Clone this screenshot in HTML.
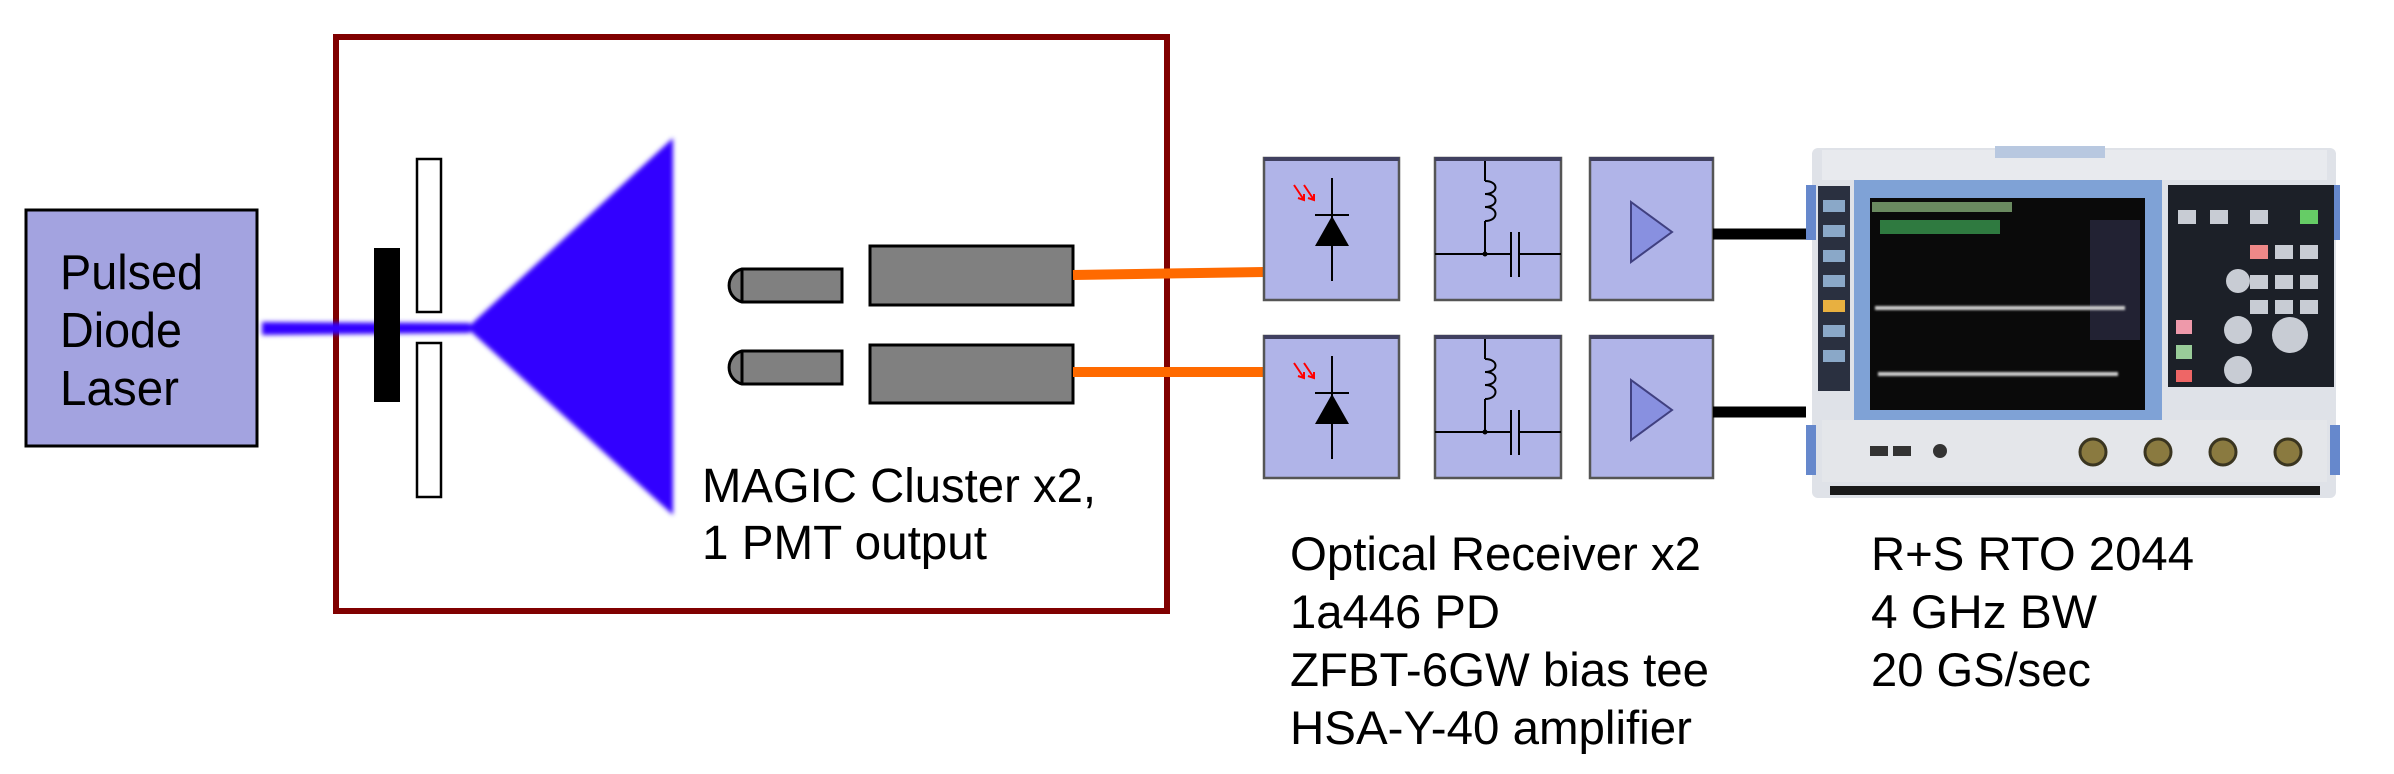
<!DOCTYPE html>
<html><head><meta charset="utf-8"><style>html,body{margin:0;padding:0;background:#fff}svg{display:block}</style></head>
<body>
<svg width="2394" height="774" viewBox="0 0 2394 774" xmlns="http://www.w3.org/2000/svg" font-family="Liberation Sans, sans-serif">
<defs>
<filter id="bl" x="-10%" y="-10%" width="120%" height="120%"><feGaussianBlur stdDeviation="2.5"/></filter>
<filter id="bl2"><feGaussianBlur stdDeviation="1"/></filter>
</defs>
<rect width="2394" height="774" fill="#fff"/>
<!-- laser -->
<rect x="26" y="210" width="231" height="236" fill="#a3a3e0" stroke="#000" stroke-width="3"/>
<g font-size="49" fill="#000">
<text x="60" y="289" textLength="143" lengthAdjust="spacingAndGlyphs">Pulsed</text>
<text x="60" y="347" textLength="122" lengthAdjust="spacingAndGlyphs">Diode</text>
<text x="60" y="405" textLength="119" lengthAdjust="spacingAndGlyphs">Laser</text>
</g>
<!-- red box -->
<rect x="336" y="37" width="831" height="574" fill="none" stroke="#800000" stroke-width="6"/>
<!-- beam -->
<g filter="url(#bl)" fill="#3300ff">
<polygon points="262,322 470,323 470,333 262,335"/>
<polygon points="467,328 673,138 673,515"/>
</g>
<!-- black bar and slats -->
<rect x="374" y="248" width="26" height="154" fill="#000"/>
<rect x="417" y="159" width="24" height="153" fill="#fff" stroke="#000" stroke-width="2.5"/>
<rect x="417" y="343" width="24" height="154" fill="#fff" stroke="#000" stroke-width="2.5"/>
<!-- PMTs -->
<g fill="#808080" stroke="#000" stroke-width="3">
<path d="M742,269 H842 V302 H742 A17,17 0 0 1 742,269 Z"/>
<path d="M742,351 H842 V384 H742 A17,17 0 0 1 742,351 Z"/>
<line x1="742" y1="269" x2="742" y2="302"/><line x1="742" y1="351" x2="742" y2="384"/>
<rect x="870" y="246" width="203" height="59"/>
<rect x="870" y="345" width="203" height="58"/>
</g>
<!-- orange fibers -->
<line x1="1073" y1="275" x2="1264" y2="272" stroke="#ff6a00" stroke-width="10"/>
<line x1="1073" y1="372" x2="1264" y2="372" stroke="#ff6a00" stroke-width="10"/>
<g font-size="48" fill="#000">
<text x="702" y="502" textLength="394" lengthAdjust="spacingAndGlyphs">MAGIC Cluster x2,</text>
<text x="702" y="559" textLength="285" lengthAdjust="spacingAndGlyphs">1 PMT output</text>
</g>
<!-- receiver rows -->
<g id="row">
<g fill="#b0b4e8" stroke="#555" stroke-width="2.5">
<rect x="1264" y="158" width="135" height="142"/>
<rect x="1435" y="158" width="126" height="142"/>
<rect x="1590" y="158" width="123" height="142"/>
</g>
<g stroke="#404060" stroke-width="4"><line x1="1264" y1="159" x2="1399" y2="159"/><line x1="1435" y1="159" x2="1561" y2="159"/><line x1="1590" y1="159" x2="1713" y2="159"/></g>
<!-- diode -->
<line x1="1332" y1="178" x2="1332" y2="281" stroke="#000" stroke-width="2"/>
<line x1="1315" y1="215" x2="1349" y2="215" stroke="#000" stroke-width="2"/>
<polygon points="1315,246 1349,246 1332,216" fill="#000"/>
<g stroke="#f00" stroke-width="2" fill="none">
<path d="M1294,185 L1304,200 M1298,198 L1304,200 L1304,194"/>
<path d="M1304,185 L1314,200 M1308,198 L1314,200 L1314,194"/>
</g>
<!-- bias tee -->
<g stroke="#000" stroke-width="2" fill="none">
<line x1="1485" y1="161" x2="1485" y2="181"/>
<path d="M1485,181 c14,0 14,13 0,13 c14,0 14,13 0,13 c14,0 14,14 0,14"/>
<line x1="1485" y1="221" x2="1485" y2="254"/>
<line x1="1435" y1="254" x2="1511" y2="254"/>
<line x1="1519" y1="254" x2="1561" y2="254"/>
<line x1="1511" y1="232" x2="1511" y2="277"/>
<line x1="1519" y1="232" x2="1519" y2="277"/>
</g>
<circle cx="1485" cy="254" r="2.5" fill="#000"/>
<!-- amp -->
<polygon points="1631,202 1672,232 1631,262" fill="#8890e0" stroke="#404080" stroke-width="2"/>
<line x1="1713" y1="234" x2="1806" y2="234" stroke="#000" stroke-width="11"/>
</g>
<use href="#row" transform="translate(0,178)"/>
<!-- oscilloscope -->
<g>
<rect x="1812" y="148" width="524" height="350" rx="6" fill="#dfe2e8"/>
<rect x="1822" y="150" width="505" height="30" fill="#e8eaee"/>
<rect x="1995" y="146" width="110" height="12" fill="#b8c8e0"/>
<rect x="1806" y="185" width="10" height="55" fill="#6688cc"/>
<rect x="2330" y="185" width="10" height="55" fill="#6688cc"/>
<rect x="1806" y="425" width="10" height="50" fill="#6688cc"/>
<rect x="2330" y="425" width="10" height="50" fill="#6688cc"/>
<rect x="1818" y="186" width="32" height="205" fill="#2a3040"/>
<g fill="#8aa8c8"><rect x="1823" y="200" width="22" height="12"/><rect x="1823" y="225" width="22" height="12"/><rect x="1823" y="250" width="22" height="12"/><rect x="1823" y="275" width="22" height="12"/><rect x="1823" y="300" width="22" height="12" fill="#e8b040"/><rect x="1823" y="325" width="22" height="12"/><rect x="1823" y="350" width="22" height="12"/></g>
<rect x="1854" y="180" width="308" height="240" fill="#7fa2d6"/>
<rect x="1870" y="198" width="275" height="212" fill="#0a0a0a"/>
<rect x="1872" y="202" width="140" height="10" fill="#6a8a60"/>
<rect x="1880" y="220" width="120" height="14" fill="#2f7a40"/>
<rect x="2090" y="220" width="50" height="120" fill="#223"/>
<g fill="#ccc" filter="url(#bl2)"><rect x="1875" y="306" width="250" height="4"/><rect x="1878" y="372" width="240" height="4"/></g>
<rect x="2168" y="185" width="166" height="202" fill="#1c2028"/>
<g fill="#c8ccd4">
<rect x="2178" y="210" width="18" height="14"/><rect x="2210" y="210" width="18" height="14"/><rect x="2250" y="210" width="18" height="14"/><rect x="2300" y="210" width="18" height="14" fill="#6c6"/>
<rect x="2250" y="245" width="18" height="14" fill="#e88"/><rect x="2275" y="245" width="18" height="14"/><rect x="2300" y="245" width="18" height="14"/>
<rect x="2250" y="275" width="18" height="14"/><rect x="2275" y="275" width="18" height="14"/><rect x="2300" y="275" width="18" height="14"/>
<rect x="2250" y="300" width="18" height="14"/><rect x="2275" y="300" width="18" height="14"/><rect x="2300" y="300" width="18" height="14"/>
<circle cx="2238" cy="281" r="12"/><circle cx="2238" cy="330" r="14"/><circle cx="2238" cy="370" r="14"/><circle cx="2290" cy="335" r="18"/>
<rect x="2176" y="320" width="16" height="14" fill="#e9a"/><rect x="2176" y="345" width="16" height="14" fill="#9c9"/><rect x="2176" y="370" width="16" height="12" fill="#e66"/>
</g>
<rect x="1822" y="420" width="505" height="62" fill="#e4e6ea"/>
<g fill="#8a7a40" stroke="#3a3520" stroke-width="3">
<circle cx="2093" cy="452" r="13"/><circle cx="2158" cy="452" r="13"/><circle cx="2223" cy="452" r="13"/><circle cx="2288" cy="452" r="13"/>
</g>
<g fill="#333"><rect x="1870" y="446" width="18" height="10"/><rect x="1893" y="446" width="18" height="10"/><circle cx="1940" cy="451" r="7"/></g>
<rect x="1830" y="486" width="490" height="9" fill="#1a1a1a"/>
</g>
<g font-size="47" fill="#000">
<text x="1290" y="570" textLength="411" lengthAdjust="spacingAndGlyphs">Optical Receiver x2</text>
<text x="1290" y="628" textLength="210" lengthAdjust="spacingAndGlyphs">1a446 PD</text>
<text x="1290" y="686" textLength="419" lengthAdjust="spacingAndGlyphs">ZFBT-6GW bias tee</text>
<text x="1290" y="744" textLength="402" lengthAdjust="spacingAndGlyphs">HSA-Y-40 amplifier</text>
<text x="1871" y="570" textLength="323" lengthAdjust="spacingAndGlyphs">R+S RTO 2044</text>
<text x="1871" y="628" textLength="226" lengthAdjust="spacingAndGlyphs">4 GHz BW</text>
<text x="1871" y="686" textLength="220" lengthAdjust="spacingAndGlyphs">20 GS/sec</text>
</g>
</svg>
</body></html>
